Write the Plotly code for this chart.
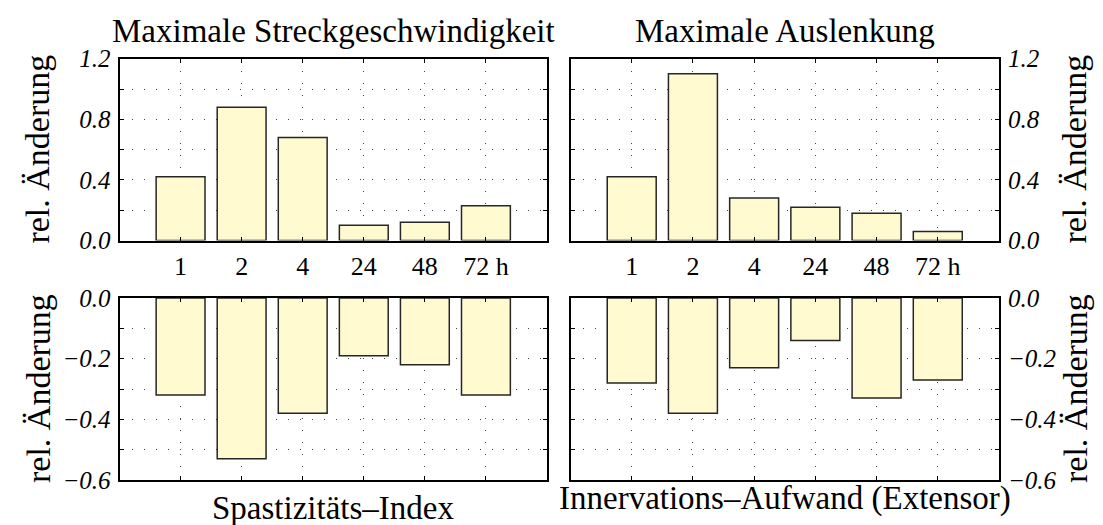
import plotly.graph_objects as go

# ---- data ----
categories = ["1", "2", "4", "24", "48", "72 h"]
streckgeschwindigkeit = [0.42, 0.88, 0.68, 0.10, 0.12, 0.23]
auslenkung = [0.42, 1.10, 0.28, 0.22, 0.18, 0.06]
spastizitaet = [-0.32, -0.53, -0.38, -0.19, -0.22, -0.32]
innervation = [-0.28, -0.38, -0.23, -0.14, -0.33, -0.27]

titles_top = ["Maximale Streckgeschwindigkeit", "Maximale Auslenkung"]
titles_bottom = ["Spastizitäts–Index", "Innervations–Aufwand (Extensor)"]
y_title = "rel. Änderung"
top_ticks = [0.0, 0.4, 0.8, 1.2]
top_ticktext = ["0.0", "0.4", "0.8", "1.2"]
bot_ticks = [0.0, -0.2, -0.4, -0.6]
bot_ticktext = ["0.0", "\u22120.2", "\u22120.4", "\u22120.6"]

W, H = 1103, 525
FONT = "Liberation Serif"
BAR_FILL = "#FFFACF"
BAR_LINE = "#262626"
GRID = "#444444"
GRIDDASH = "1px,11px"

fig = go.Figure()
series = [streckgeschwindigkeit, auslenkung, spastizitaet, innervation]
for i, vals in enumerate(series):
    k = "" if i == 0 else str(i + 1)
    fig.add_trace(go.Bar(
        x=categories, y=vals, width=0.8,
        marker=dict(color=BAR_FILL, line=dict(color=BAR_LINE, width=1.5)),
        xaxis="x" + k, yaxis="y" + k, showlegend=False,
    ))

def px_x(p):
    return p / W

def px_y(p):
    return 1 - p / H

xdom_l = [px_x(111.5), px_x(539)]
xdom_r = [px_x(562.5), px_x(991)]
ydom_t = [px_y(232.5), px_y(50.7)]
ydom_b = [px_y(472), px_y(290)]

def xaxis(dom, anchor, labels):
    return dict(
        domain=dom, anchor=anchor, type="category", range=[-1, 6],
        showline=True, linecolor="black", linewidth=2, mirror="ticks",
        ticks="inside", ticklen=4, tickwidth=1.3, tickcolor="black",
        showgrid=True, gridcolor=GRID, gridwidth=1, griddash=GRIDDASH,
        showticklabels=labels,
        tickfont=dict(family=FONT, size=26, color="black"),
        ticklabelstandoff=1, automargin=False,
        zeroline=False, fixedrange=True,
    )

def yaxis(dom, anchor, side, top):
    if top:
        rng, tv, tt, mdt = [0, 1.2], top_ticks, top_ticktext, 0.2
    else:
        rng, tv, tt, mdt = [-0.6, 0], bot_ticks, bot_ticktext, 0.1
    return dict(
        domain=dom, anchor=anchor, side=side, range=rng,
        tickmode="array", tickvals=tv, ticktext=tt,
        showline=True, linecolor="black", linewidth=2, mirror="ticks",
        ticks="inside", ticklen=4, tickwidth=1.3, tickcolor="black",
        showgrid=True, gridcolor=GRID, gridwidth=1, griddash=GRIDDASH,
        minor=dict(dtick=mdt, tick0=0, ticks="inside", ticklen=4, tickwidth=1.3,
                   tickcolor="black", showgrid=True, gridcolor=GRID,
                   gridwidth=1, griddash=GRIDDASH),
        tickfont=dict(family=FONT, size=25, color="black", style="italic"),
        ticklabelstandoff=2, automargin=False,
        zeroline=False, fixedrange=True,
    )

annotations = []
for t, dom in zip(titles_top, [xdom_l, xdom_r]):
    annotations.append(dict(text=t, x=(dom[0] + dom[1]) / 2, y=px_y(23),
                            xref="paper", yref="paper", showarrow=False,
                            xanchor="center", yanchor="middle",
                            font=dict(family=FONT, size=33, color="black")))
for t, dom, yp in zip(titles_bottom, [xdom_l, xdom_r], [500, 490]):
    annotations.append(dict(text=t, x=(dom[0] + dom[1]) / 2, y=px_y(yp),
                            xref="paper", yref="paper", showarrow=False,
                            xanchor="center", yanchor="middle",
                            font=dict(family=FONT, size=33, color="black")))
for xp in [30, 1067]:
    for ydom in [ydom_t, ydom_b]:
        annotations.append(dict(text=y_title, x=px_x(xp), y=(ydom[0] + ydom[1]) / 2,
                                xref="paper", yref="paper", showarrow=False,
                                textangle=-90, xanchor="center", yanchor="middle",
                                font=dict(family=FONT, size=34, color="black")))

fig.update_layout(
    template="none",
    width=W, height=H,
    margin=dict(l=0, r=0, t=0, b=0),
    paper_bgcolor="white", plot_bgcolor="white",
    bargap=0.2,
    xaxis=xaxis(xdom_l, "y", True),
    yaxis=yaxis(ydom_t, "x", "left", True),
    xaxis2=xaxis(xdom_r, "y2", True),
    yaxis2=yaxis(ydom_t, "x2", "right", True),
    xaxis3=xaxis(xdom_l, "y3", False),
    yaxis3=yaxis(ydom_b, "x3", "left", False),
    xaxis4=xaxis(xdom_r, "y4", False),
    yaxis4=yaxis(ydom_b, "x4", "right", False),
    annotations=annotations,
)

fig.write_html("out.html")
